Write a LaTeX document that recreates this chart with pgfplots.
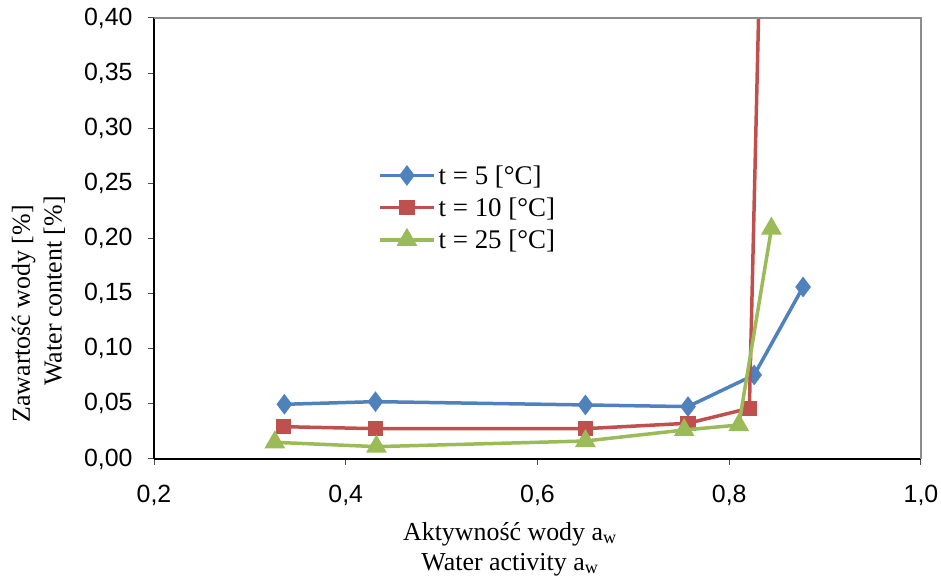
\documentclass[border=0pt]{standalone}
\usepackage{fontspec}
\setmainfont{Liberation Serif}
\newfontfamily\arial{Liberation Sans}
\usepackage{pgfplots}
\pgfplotsset{compat=1.18}
\definecolor{exblue}{HTML}{4F81BD}
\definecolor{exred}{HTML}{C0504D}
\definecolor{exgreen}{HTML}{9BBB59}

\begin{document}
\begin{tikzpicture}
\begin{axis}[
  scale only axis, width=767bp, height=441bp,
  clip mode=individual,
  xmin=0.2, xmax=1.0, ymin=0, ymax=0.4,
  xtick={0.2,0.4,0.6,0.8,1.0},
  ytick={0,0.05,0.1,0.15,0.2,0.25,0.3,0.35,0.4},
  axis x line*=bottom, axis y line*=left,
  axis line style={line width=1.2bp, -},
  tick align=outside, major tick length=6bp,
  tick style={line width=1bp, black!70},
  tick label style={font=\arial\fontsize{25}{29}\selectfont},
  /pgf/number format/.cd, use comma, fixed, fixed zerofill, precision=2,
  assume math mode=true, /pgfplots/.cd,
  x tick label style={/pgf/number format/precision=1, yshift=-17bp},
  y tick label style={xshift=-12bp},
  legend style={draw=none, fill=none, inner sep=0pt,
    at={(axis description cs:0.292,0.673)}, anchor=north west,
    font=\fontsize{27}{31}\selectfont, row sep=6bp,
    nodes={inner sep=3bp}},
  legend cell align=left,
  legend image code/.code={
    \draw[mark repeat=2,mark phase=2] plot coordinates {(0bp,0bp) (27bp,0bp) (54bp,0bp)};},
  every axis plot/.append style={line width=3.5bp},
]
\addplot[exblue, mark=diamond*, mark size=7.5bp] coordinates {
  (0.336,0.0496) (0.431,0.0520) (0.650,0.0490) (0.757,0.0475) (0.826,0.0762) (0.877,0.1560)
};
\addplot[exred, mark=square*, mark size=6bp] coordinates {
  (0.335,0.0293) (0.431,0.0275) (0.650,0.0275) (0.757,0.0324) (0.821,0.0460) (0.840,0.7500)
};
\addplot[exgreen, mark=triangle*, mark size=8.5bp] coordinates {
  (0.326,0.0151) (0.432,0.0112) (0.650,0.0163) (0.753,0.0263) (0.810,0.0308) (0.844,0.2090)
};
\legend{t = 5 [°C], t = 10 [°C], t = 25 [°C]}
\coordinate (bbsw) at (axis description cs:-0.2008,-0.2744);
\coordinate (bbne) at (axis description cs:1.0261,1.0408);
\draw[black!45, line width=1.5bp] (axis description cs:0,1) -- (axis description cs:1,1) -- (axis description cs:1,0);
\node[font=\fontsize{26}{30}\selectfont, rotate=90] at (axis description cs:-0.170,0.329) {Zawartość wody [\%]};
\node[font=\fontsize{26}{30}\selectfont, rotate=90] at (axis description cs:-0.130,0.381) {Water content [\%]};
\node[font=\fontsize{26}{30}\selectfont, align=center] at (axis description cs:0.464,-0.204)
  {Aktywność wody a\textsubscript{w}\\Water activity a\textsubscript{w}};
\end{axis}
\pgfresetboundingbox
\path (bbsw) rectangle (bbne);
\end{tikzpicture}
\end{document}
